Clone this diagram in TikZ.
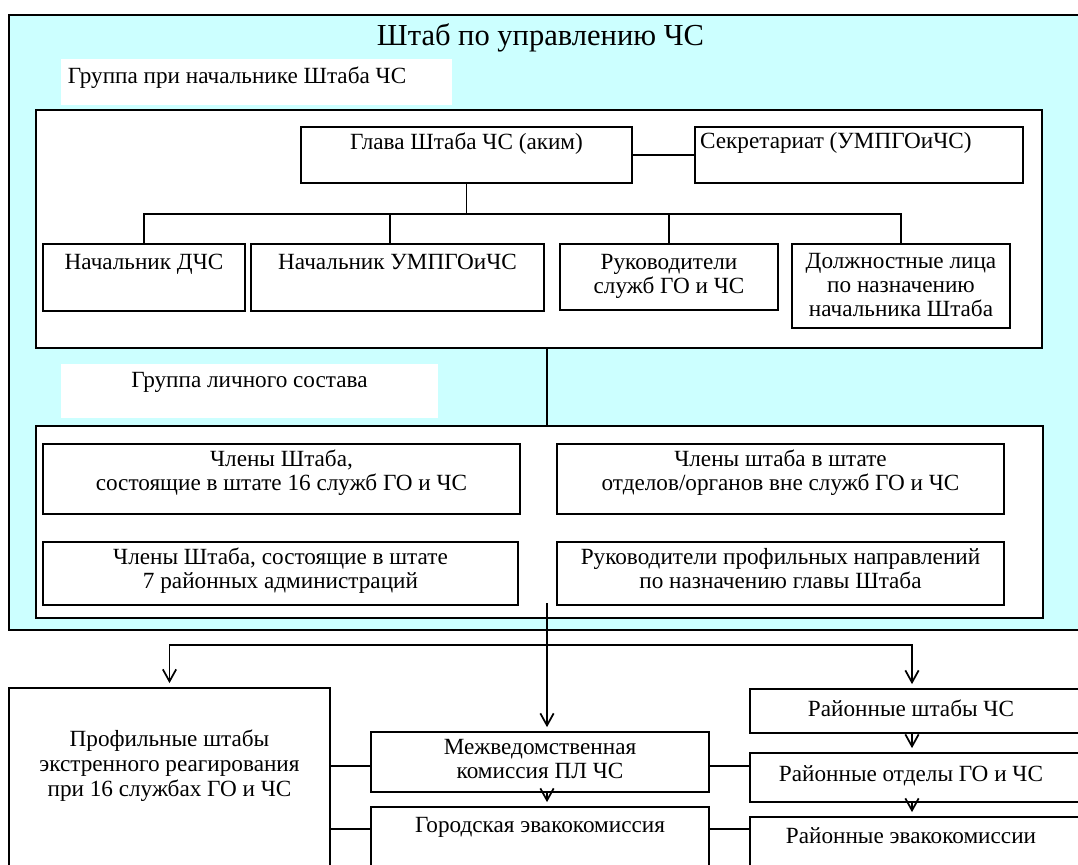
\documentclass[tikz,border=0pt]{standalone}
\usepackage{fontspec}
\setmainfont{Liberation Serif}
\usetikzlibrary{arrows.meta, calc, fit}
\definecolor{shtabfill}{HTML}{CCFFFF}
\newcommand\bodysize{\fontsize{17.4}{18}\selectfont}
\newcommand\titlesize{\fontsize{22.9}{24}\selectfont}

\begin{document}
\begin{tikzpicture}[
    x=0.75pt, y=-0.75pt,
    font=\bodysize,
    box/.style={draw, fill=white, line width=1.3pt, inner sep=0pt},
    grp/.style={draw, fill=white, line width=1.6pt, inner sep=0pt},
    tag/.style={fill=white, inner sep=0pt},
    txt/.style={align=center, inner sep=0pt},
    conn/.style={line width=1.3pt},
    arr/.style={line width=1.3pt, shorten >=3pt, -{Straight Barb[length=9pt, width=10pt]}}
]
\useasboundingbox (0,0) rectangle (1078,864);
\clip (0,0) rectangle (1078,864);

\node[fit={(9,15) (1100,630)}, draw, fill=shtabfill, line width=1.6pt, inner sep=0pt] (shtab) {};
\node[font=\titlesize, inner sep=0pt] (title) at (540.5,38) {Штаб по управлению ЧС};

\node[tag, fit={(61,59) (452,105)}, label={[txt, anchor=north west, xshift=5.2pt, yshift=-6pt]north west:Группа при начальнике Штаба ЧС}] (tagchief) {};
\node[grp, fit={(36,110) (1042,348)}] (chief) {};

\node[box, fit={(301,127) (632,183)}, label={[txt, anchor=north, yshift=-4.5pt]north:Глава Штаба ЧС (аким)}] (head) {};
\node[box, fit={(695,127) (1023,183)}, label={[txt, anchor=north west, xshift=4.3pt, yshift=-4.5pt]north west:Секретариат (УМПГОиЧС)}] (secr) {};

\node[box, fit={(43,244) (245,311)}, label={[txt, anchor=north, yshift=-8.25pt]north:Начальник ДЧС}] (dchs) {};
\node[box, fit={(251,244) (544,311)}, label={[txt, anchor=north, yshift=-8.25pt]north:Начальник УМПГОиЧС}] (umpg) {};
\node[box, fit={(560,244) (778,310)}, label={[txt, anchor=north, yshift=-8.25pt]north:Руководители\\служб ГО и ЧС}] (rukgo) {};
\node[box, fit={(792,244) (1010,328)}, label={[txt, anchor=north, yshift=-7.5pt]north:Должностные лица\\по назначению\\начальника Штаба}] (dolzh) {};

\node[tag, fit={(61,364) (438,418)}, label={[txt, anchor=north, yshift=-6pt]north:Группа личного состава}] (tagstaff) {};
\node[grp, fit={(36,426) (1043,618)}] (staff) {};

\node[box, fit={(43,444) (520,514)}, label={[txt, anchor=north, yshift=-4.5pt]north:Члены Штаба,\\состоящие в штате 16 служб ГО и ЧС}] (mem16) {};
\node[box, fit={(557,444) (1004,514)}, label={[txt, anchor=north, yshift=-4.5pt]north:Члены штаба в штате\\отделов/органов вне служб ГО и ЧС}] (memout) {};
\node[box, fit={(43,542) (518,605)}, label={[txt, anchor=north, yshift=-5.2pt]north:Члены Штаба, состоящие в штате\\7 районных администраций}] (mem7) {};
\node[box, fit={(557,542) (1004,605)}, label={[txt, anchor=north, yshift=-5.2pt]north:Руководители профильных направлений\\по назначению главы Штаба}] (rukprof) {};

\node[box, fit={(9,688) (330,900)}, label={[txt, anchor=north, yshift=-31.5pt, font=\fontsize{17.4}{18.8}\selectfont]north:Профильные штабы\\экстренного реагирования\\при 16 службах ГО и ЧС}] (prof) {};
\node[box, fit={(371,732) (709,792)}, label={[txt, anchor=north, yshift=-6pt]north:Межведомственная\\комиссия ПЛ ЧС}] (mvk) {};
\node[box, fit={(371,807) (709,900)}, label={[txt, anchor=north, yshift=-8.25pt]north:Городская эвакокомиссия}] (gek) {};
\node[box, fit={(750,689) (1084,733)}, label={[txt, anchor=north, xshift=-4.5pt, yshift=-8.25pt]north:Районные штабы ЧС}] (rshtab) {};
\node[box, fit={(750,753) (1084,802)}, label={[txt, anchor=north, xshift=-4.5pt, yshift=-9.75pt]north:Районные отделы ГО и ЧС}] (rotdel) {};
\node[box, fit={(750,817) (1084,900)}, label={[txt, anchor=north, xshift=-4.5pt, yshift=-8.25pt]north:Районные эвакокомиссии}] (revak) {};

\draw[conn] (head) -- (secr);
\coordinate (bus) at ($(head.south)+(0,30)$);
\draw[conn] (head) -- (bus);
\draw[conn] (dchs) |- (bus) -| (dolzh);
\draw[conn] (bus -| 390,0) -- (umpg.north -| 390,0);
\draw[conn] (bus -| rukgo) -- (rukgo);

\coordinate (trunk) at (547,645);
\coordinate (rbus) at (912,645);
\draw[conn] (chief.south -| trunk) -- (staff.north -| trunk);
\draw[conn] ($(staff.south -| trunk)+(0,-16)$) -- (trunk);
\draw[arr] (trunk) -- (trunk |- mvk.north);
\draw[arr] (trunk) -| (prof);
\draw[arr] (trunk) -- (rbus) -- (rbus |- rshtab.north);
\draw[arr] (mvk.south -| trunk) -- (gek.north -| trunk);
\draw[arr] (rbus |- rshtab.south) -- (rbus |- rotdel.north);
\draw[arr] (rbus |- rotdel.south) -- (rbus |- revak.north);

\coordinate (lnk1) at ($(mvk.north west)+(0,35)$);
\coordinate (lnk2) at ($(gek.north west)+(0,23)$);
\draw[conn] (prof.east |- lnk1) -- (lnk1);
\draw[conn] (mvk.east |- lnk1) -- (rotdel.west |- lnk1);
\draw[conn] (prof.east |- lnk2) -- (lnk2);
\draw[conn] (gek.east |- lnk2) -- (revak.west |- lnk2);
\end{tikzpicture}
\end{document}
